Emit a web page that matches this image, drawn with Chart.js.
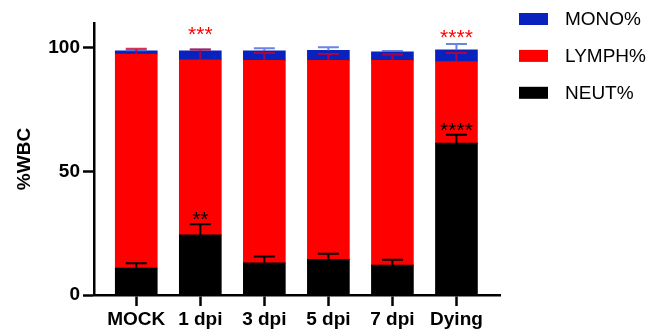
<!DOCTYPE html>
<html>
<head>
<meta charset="utf-8">
<script src="https://cdn.jsdelivr.net/npm/chart.js@4"></script>
<style>
  body { margin: 0; background: #fff; }
  #wrap { width: 653px; height: 335px; position: relative; }
</style>
</head>
<body>
<div id="wrap"><canvas id="myChart"></canvas></div>
<script>
// groups along x
var labels = ["MOCK", "1 dpi", "3 dpi", "5 dpi", "7 dpi", "Dying"];

// means (stacked, %WBC)
var neut  = [10.9, 24.3, 13.0, 14.4, 12.1, 61.4];
var lymph = [86.5, 70.8, 81.9, 80.5, 82.8, 33.0];
var mono  = [1.3, 3.6, 3.8, 4.0, 3.4, 4.8];

// error (upper only)
var neutErr  = [1.9, 4.3, 2.6, 2.3, 2.2, 3.4];
var lymphErr = [2.2, 4.2, 3.0, 2.6, 2.4, 3.5];
var monoErr  = [0.3, 0.6, 1.1, 1.3, 0.4, 2.3];

// significance marks: group index, text, value on y, colour
var starIdx   = [1, 5, 1, 5];
var starText  = ["***", "****", "**", "****"];
var starValue = [106.5, 105.4, 31.7, 67.9];
var starColor = ["#ff0000", "#ff0000", "#000000", "#000000"];

var yTicks = [0, 50, 100];

var FONT = "'Liberation Sans', Arial, sans-serif";

function pts(arr) {
    return arr.map((v, i) => ({x: i, y: v}));
}

var data = {
    datasets: [
        {label: "NEUT%", data: pts(neut), backgroundColor: "#000000", err: neutErr, errColor: "#000000"},
        {label: "LYMPH%", data: pts(lymph), backgroundColor: "#ff0000", err: lymphErr, errColor: "rgba(205,0,40,0.8)"},
        {label: "MONO%", data: pts(mono), backgroundColor: "#0a22bd", err: monoErr, errColor: "rgba(80,110,225,0.85)"},
    ]
};

// error bars on top of every stacked segment
var errorBars = {
    id: "errorBars",
    afterDatasetsDraw(chart) {
        const ctx = chart.ctx;
        const y = chart.scales.y;
        const order = [2, 1, 0];
        order.forEach(di => {
            const ds = chart.data.datasets[di];
            const meta = chart.getDatasetMeta(di);
            meta.data.forEach((bar, j) => {
                let base = 0;
                for (let k = 0; k <= di; k++) base += chart.data.datasets[k].data[j].y;
                const y0 = y.getPixelForValue(base);
                const y1 = y.getPixelForValue(base + ds.err[j]);
                ctx.save();
                ctx.strokeStyle = ds.errColor;
                ctx.lineWidth = 2;
                ctx.beginPath();
                ctx.moveTo(bar.x, y0);
                ctx.lineTo(bar.x, y1);
                ctx.moveTo(bar.x - 10.5, y1);
                ctx.lineTo(bar.x + 10.5, y1);
                ctx.stroke();
                ctx.restore();
            });
        });
    }
};

var stars = {
    id: "stars",
    afterDraw(chart) {
        const ctx = chart.ctx;
        ctx.save();
        ctx.font = "21px " + FONT;
        ctx.textAlign = "center";
        ctx.textBaseline = "middle";
        starIdx.forEach((idx, i) => {
            ctx.fillStyle = starColor[i];
            ctx.fillText(starText[i], chart.scales.x.getPixelForValue(idx), chart.scales.y.getPixelForValue(starValue[i]) + 4);
        });
        ctx.restore();
    }
};

// legend on the right, top entry first
var sideLegend = {
    id: "sideLegend",
    afterDraw(chart) {
        const ctx = chart.ctx;
        ctx.save();
        ctx.font = "19px " + FONT;
        ctx.textBaseline = "middle";
        const list = chart.data.datasets.slice().reverse();
        list.forEach((ds, i) => {
            const cy = 19 + i * 36.9;
            ctx.fillStyle = ds.backgroundColor;
            ctx.fillRect(519, cy - 6, 29, 12);
            ctx.fillStyle = "#000";
            ctx.fillText(ds.label, 565, cy + 1);
        });
        ctx.restore();
    }
};

const config = {
    type: "bar",
    data: data,
    options: {
        animation: false,
        responsive: true,
        maintainAspectRatio: false,
        layout: {padding: {top: 23, right: 153, left: 0, bottom: 0}},
        barThickness: 42,
        plugins: {
            legend: {display: false},
            tooltip: {enabled: false}
        },
        scales: {
            x: {
                type: "linear",
                stacked: true,
                offset: false,
                min: -0.66,
                max: 5.68,
                afterFit: s => { s.height = 40; },
                border: {display: true, color: "#000", width: 2.5},
                grid: {offset: false, drawOnChartArea: false, tickLength: 11, tickWidth: 2.5, tickColor: "#000"},
                ticks: {
                    stepSize: 1,
                    includeBounds: false,
                    autoSkip: false,
                    maxRotation: 0,
                    padding: 2,
                    color: "#000",
                    font: {family: FONT, size: 19, weight: "bold"},
                    callback: v => labels[v]
                }
            },
            y: {
                stacked: true,
                min: 0,
                max: 110,
                afterFit: s => { s.width = 94; },
                afterBuildTicks: s => { s.ticks = yTicks.map(v => ({value: v})); },
                border: {display: true, color: "#000", width: 2.5},
                grid: {drawOnChartArea: false, tickLength: 11, tickWidth: 2.5, tickColor: "#000"},
                title: {
                    display: true,
                    text: "%WBC",
                    color: "#000",
                    padding: {top: 13, bottom: 0},
                    font: {family: FONT, size: 19, weight: "bold"}
                },
                ticks: {
                    padding: 3,
                    color: "#000",
                    font: {family: FONT, size: 19, weight: "bold"}
                }
            }
        }
    },
    plugins: [errorBars, stars, sideLegend]
};

const myChart = new Chart(document.getElementById("myChart"), config);
</script>
</body>
</html>
